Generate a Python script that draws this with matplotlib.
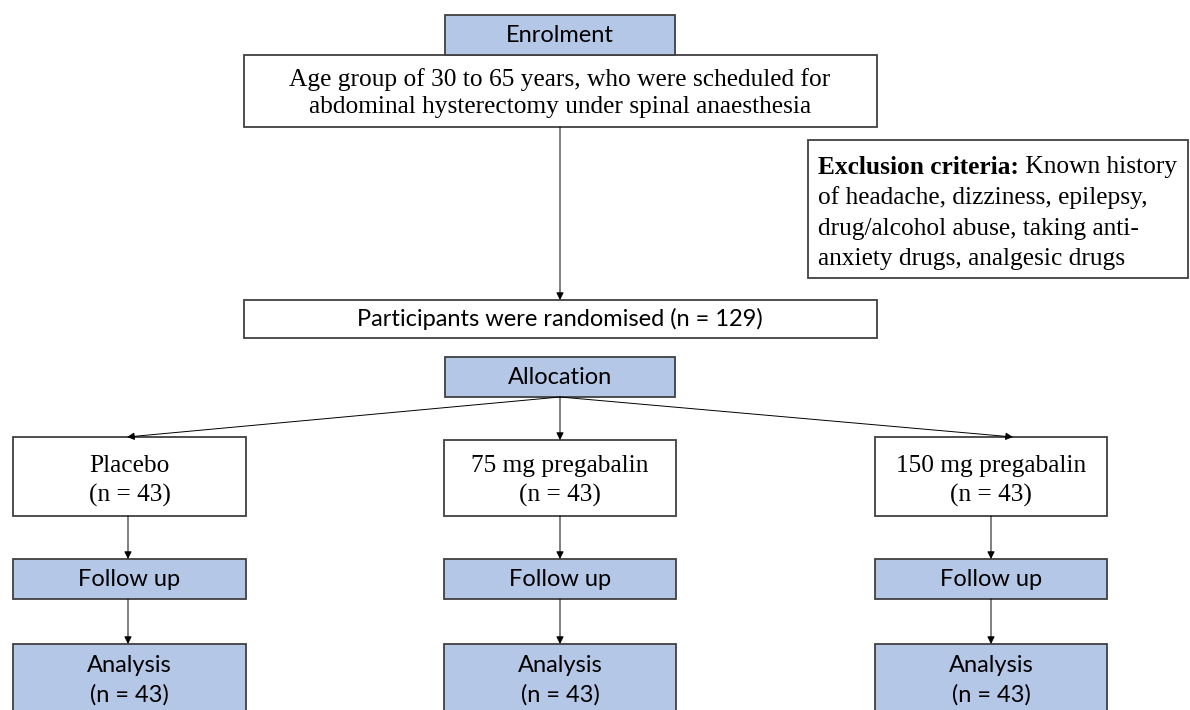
import matplotlib.pyplot as plt
from matplotlib.patches import Rectangle

# Flowchart text
header_labels = ['Enrolment', 'Allocation']
enrol_text = 'Age group of 30 to 65 years, who were scheduled for\nabdominal hysterectomy under spinal anaesthesia'
random_text = 'Participants were randomised (n = 129)'
excl_bold = 'Exclusion criteria:'
excl_lines = [' Known history', 'of headache, dizziness, epilepsy,',
              'drug/alcohol abuse, taking anti-', 'anxiety drugs, analgesic drugs']
arm_labels = ['Placebo', '75 mg pregabalin', '150 mg pregabalin']
arm_n = [43, 43, 43]
analysis_n = [43, 43, 43]

BLUE = '#b4c7e7'
EDGE = '#404040'
SERIF = 'Liberation Serif'
SANS = 'Lato'
FS_SERIF = 18.3
FS_SANS = 17

fig = plt.figure(figsize=(11.9, 7.1), dpi=100)
ax = fig.add_axes([0, 0, 1, 1])
ax.set_xlim(0, 1190)
ax.set_ylim(710, 0)
ax.axis('off')


def box(x0, y0, x1, y1, fill='white'):
    ax.add_patch(Rectangle((x0, y0), x1 - x0, y1 - y0, facecolor=fill,
                           edgecolor=EDGE, lw=1.3, zorder=2))


def arrow(x0, y0, x1, y1):
    ax.annotate('', xy=(x1, y1), xytext=(x0, y0),
                arrowprops=dict(arrowstyle='-|>', color='black', lw=0.7,
                                mutation_scale=11, shrinkA=0, shrinkB=0),
                zorder=3)


# top part
box(244, 55, 877, 127)
ax.text(560, 93, enrol_text, ha='center', va='center', family=SERIF,
        fontsize=FS_SERIF, linespacing=1.27, zorder=4)
box(445, 15, 675, 55, BLUE)
ax.text(560, 36, header_labels[0], ha='center', va='center', family=SANS,
        fontsize=FS_SANS, zorder=4)

arrow(560, 127, 560, 300)

# exclusion box
box(808, 140, 1188, 278)
t = ax.text(818, 167, excl_bold, ha='left', va='center', family=SERIF,
            fontsize=FS_SERIF, fontweight='bold', zorder=4)
fig.canvas.draw()
bb = t.get_window_extent().transformed(ax.transData.inverted())
ax.text(bb.x1, 167, excl_lines[0], ha='left', va='center', family=SERIF,
        fontsize=FS_SERIF, zorder=4)
for i, line in enumerate(excl_lines[1:]):
    ax.text(818, 198 + i * 30.5, line, ha='left', va='center', family=SERIF,
            fontsize=FS_SERIF, zorder=4)

box(244, 300, 877, 338)
ax.text(560, 319, random_text, ha='center', va='center', family=SANS,
        fontsize=FS_SANS, zorder=4)

box(445, 357, 675, 397, BLUE)
ax.text(560, 377, header_labels[1], ha='center', va='center', family=SANS,
        fontsize=FS_SANS, zorder=4)

# three arms
arm_x = [(13, 246), (444, 676), (875, 1107)]
arm_top = [437, 440, 437]
for i, (x0, x1) in enumerate(arm_x):
    cx = (x0 + x1) / 2
    tip = 127 if i == 0 else (560 if i == 1 else 1013)
    arrow(560, 397, tip, arm_top[i])
    box(x0, arm_top[i], x1, 516)
    ax.text(cx, 481, f'{arm_labels[i]}\n(n = {arm_n[i]})',
            ha='center', va='center', family=SERIF, fontsize=FS_SERIF,
            linespacing=1.38, zorder=4)
    mid = cx if i != 0 else 128
    arrow(mid, 516, mid, 559)
    box(x0, 559, x1, 599, BLUE)
    ax.text(cx, 579, 'Follow up', ha='center', va='center', family=SANS,
            fontsize=FS_SANS, zorder=4)
    arrow(mid, 599, mid, 644)
    box(x0, 644, x1, 720, BLUE)
    ax.text(cx, 680, f'Analysis\n(n = {analysis_n[i]})', ha='center',
            va='center', family=SANS, fontsize=FS_SANS, linespacing=1.45,
            zorder=4)

fig.savefig('out.png', dpi=100)
